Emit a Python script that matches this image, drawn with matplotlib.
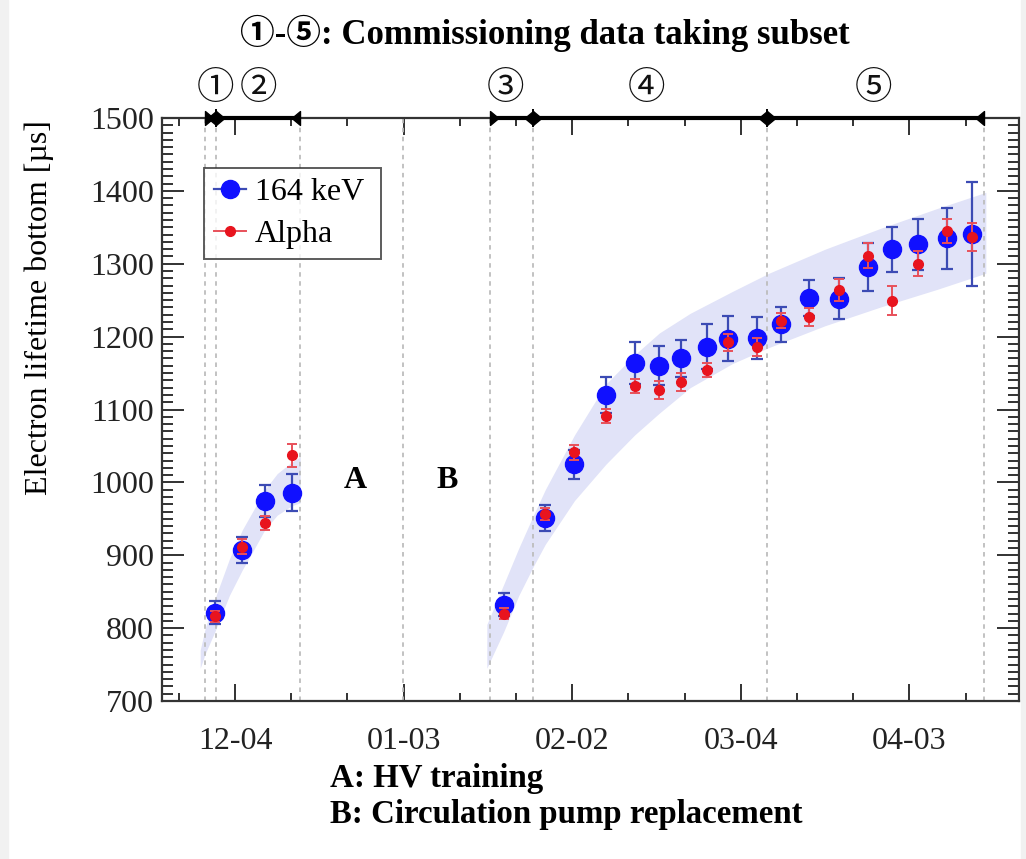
import matplotlib
matplotlib.use("Agg")
import matplotlib.pyplot as plt
from matplotlib.path import Path
from matplotlib.lines import Line2D
import matplotlib.patches as mpatches
import numpy as np

plt.rcParams["font.family"] = ["Liberation Serif", "Noto Sans CJK JP"]

# ---------------- data ----------------
# x values: days since 2020-12-04
days = [-3.6, 1.3, 5.3, 10.1, 47.8, 55.2, 60.4, 66.0, 71.1, 75.5, 79.4,
        84.0, 87.8, 92.8, 97.2, 102.2, 107.4, 112.6, 116.9, 121.5, 126.6, 131.2]
kev164 = [821, 907, 974, 986, 832, 951, 1025, 1120, 1164, 1160, 1170,
          1186, 1197, 1198, 1217, 1253, 1252, 1295, 1320, 1327, 1335, 1341]
kev164_err = [16, 18, 22, 25, 16, 18, 20, 25, 29, 27, 26,
              31, 31, 29, 24, 25, 28, 33, 31, 35, 42, 71]
alpha = [816, 912, 944, 1037, 820, 957, 1041, 1091, 1132, 1127, 1138,
         1154, 1192, 1186, 1222, 1227, 1264, 1311, 1249, 1300, 1345, 1337]
alpha_err = [8, 10, 10, 16, 8, 8, 10, 10, 10, 12, 12,
             10, 12, 12, 10, 12, 15, 17, 20, 17, 17, 19]

band1_days = [-6.2, -5.3, -3.6, -1.0, 1.3, 3.5, 5.3, 7.5, 10.1, 11.6]
band1_low = [745, 765, 795, 845, 880, 910, 935, 955, 968, 972]
band1_high = [770, 800, 840, 895, 935, 965, 990, 1012, 1028, 1035]

band2_days = [44.8, 47.8, 50.5, 53.1, 55.2, 60.4, 66.0, 71.1, 75.5, 81.0,
              88.5, 95.0, 105.0, 115.0, 125.0, 133.6]
band2_low = [745, 795, 845, 885, 915, 975, 1025, 1065, 1095, 1130,
             1163, 1185, 1215, 1241, 1265, 1287]
band2_high = [805, 860, 910, 955, 990, 1065, 1135, 1175, 1205, 1232,
              1262, 1287, 1320, 1349, 1376, 1398]

vlines = [-5.34, -3.38, 11.57, 29.9, 45.4, 53.1, 94.66, 133.2]
segments = [(-5.34, -3.38), (-3.38, 11.57), (45.4, 53.1), (53.1, 94.66), (94.66, 133.2)]
junctions = [-3.38, 53.1, 94.66]
seg_labels = ["①", "②", "③", "④", "⑤"]
seg_label_x = [-3.56, 4.1, 48.1, 73.3, 113.6]

xtick_pos = [0, 30, 60, 90, 120]
xtick_labels = ["12-04", "01-03", "02-02", "03-04", "04-03"]

# ---------------- figure ----------------
W, H = 1026, 859
fig = plt.figure(figsize=(W / 100, H / 100), dpi=100)
fig.patch.set_facecolor("white")
fig.patches.append(mpatches.Rectangle((0, 0), 8 / W, 1, transform=fig.transFigure,
                                      color="#f1f1f1", zorder=0))
fig.patches.append(mpatches.Rectangle((1 - 5 / W, 0), 5 / W, 1, transform=fig.transFigure,
                                      color="#f1f1f1", zorder=0))

ax = fig.add_axes([162 / W, 1 - 701 / H, (1019 - 162) / W, (701 - 118) / H])

band_color = "#e1e3f8"
ax.fill_between(band1_days, band1_low, band1_high, color=band_color, lw=0, zorder=1)
ax.fill_between(band2_days, band2_low, band2_high, color=band_color, lw=0, zorder=1)

for v in vlines:
    ax.axvline(v, color="#bdbdbd", lw=1.3, ls=(0, (2.5, 2.5)), zorder=2)

blue_c, blue_e = "#1010ff", "#3c4bb4"
red_c, red_e = "#e8141e", "#e8505a"
ax.errorbar(days, kev164, yerr=kev164_err, fmt="o", color=blue_c,
            ms=13, ecolor=blue_e, elinewidth=1.6, capsize=4,
            capthick=1.6, zorder=4)
ax.errorbar(days, alpha, yerr=alpha_err, fmt="o", color=red_c,
            ms=7, ecolor=red_e, elinewidth=1.4, capsize=3.5,
            capthick=1.4, zorder=5)

ax.set_xlim(-13.0, 139.5)
ax.set_ylim(700, 1500)
ax.set_xticks(xtick_pos)
ax.set_xticklabels(xtick_labels)
ax.set_xticks(np.arange(-10, 140, 10), minor=True)
ax.set_yticks(np.arange(700, 1501, 100))
ax.set_yticks(np.arange(700, 1501, 10), minor=True)
ax.tick_params(axis="both", which="both", direction="in", top=True, right=True,
               labelsize=23, width=1.3, colors="#222222")
ax.tick_params(axis="x", which="major", length=12, pad=19)
ax.tick_params(axis="x", which="minor", length=6)
ax.tick_params(axis="y", which="major", length=16, pad=6)
ax.tick_params(axis="y", which="minor", length=8)
for s in ax.spines.values():
    s.set_linewidth(1.6)
    s.set_color("#333333")

ax.set_ylabel("Electron lifetime bottom [µs]", fontsize=23, va="center", ha="center")
ax.yaxis.set_label_coords((39 - 162) / 857, (701 - 308) / 583)

h_blue = Line2D([], [], color=blue_e, lw=1.6, marker="o", ms=13,
                markerfacecolor=blue_c, markeredgecolor=blue_c)
h_red = Line2D([], [], color=red_e, lw=1.4, marker="o", ms=7,
               markerfacecolor=red_c, markeredgecolor=red_c)
leg = ax.legend(handles=[h_blue, h_red], labels=["164 keV ", "Alpha"],
                loc="upper left", bbox_to_anchor=(0.049, 0.914), borderaxespad=0,
                fontsize=23, frameon=True, fancybox=False, edgecolor="#333333",
                handlelength=1.0, handletextpad=0.3, borderpad=0.3,
                labelspacing=0.4)
leg.get_frame().set_linewidth(1.4)

# segment bar on the top spine
right_tri = Path([(0, -1), (0, 1), (1.2, 0), (0, -1)],
                 [Path.MOVETO, Path.LINETO, Path.LINETO, Path.CLOSEPOLY])
left_tri = Path([(0, -1), (0, 1), (-1.2, 0), (0, -1)],
                [Path.MOVETO, Path.LINETO, Path.LINETO, Path.CLOSEPOLY])
ytop = 1500
for (a, b) in segments:
    ax.plot([a, b], [ytop, ytop], color="black", lw=3, clip_on=False, zorder=6,
            solid_capstyle="butt")
    ax.plot([a], [ytop], marker=right_tri, ms=12, color="black", clip_on=False, zorder=7)
    ax.plot([b], [ytop], marker=left_tri, ms=12, color="black", clip_on=False, zorder=7)
for j in junctions:
    ax.plot([j], [ytop], marker="|", ms=13, mew=1.4, color="black", clip_on=False, zorder=8)

trans = ax.get_xaxis_transform()
for lab, xx in zip(seg_labels, seg_label_x):
    ax.text(xx, 1.051, lab, transform=trans, ha="center", va="center",
            fontsize=27, family=["Noto Sans CJK JP", "DejaVu Sans"], color="#111111")

ax.text(21.4, 1002, "A", ha="center", va="center", fontsize=23, fontweight="bold")
ax.text(37.7, 1002, "B", ha="center", va="center", fontsize=23, fontweight="bold")

fig.text(545 / W, 1 - 33 / H, "①-⑤: Commissioning data taking subset",
         ha="center", va="center", fontsize=25, fontweight="bold")
fig.text(330 / W, 1 - 778 / H, "A: HV training", ha="left", va="center",
         fontsize=23.7, fontweight="bold")
fig.text(330 / W, 1 - 815 / H, "B: Circulation pump replacement", ha="left",
         va="center", fontsize=23.7, fontweight="bold")

fig.savefig("out.png", dpi=100)
